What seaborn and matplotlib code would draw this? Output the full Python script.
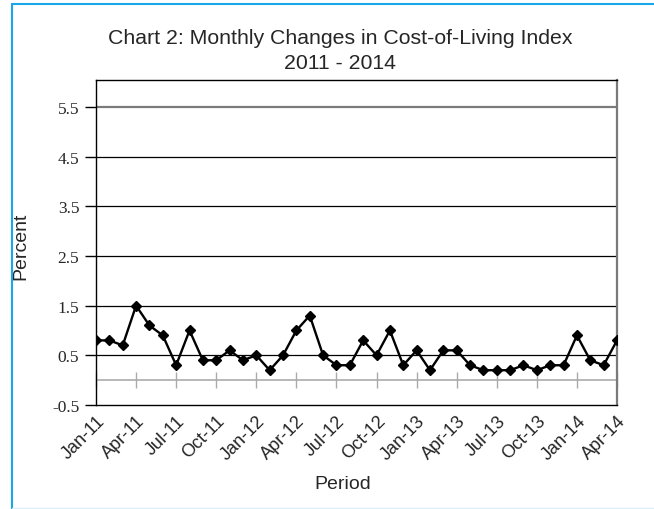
import matplotlib
matplotlib.use("Agg")
import matplotlib.pyplot as plt
from matplotlib.lines import Line2D
import seaborn as sns
import pandas as pd
import numpy as np

months = ["Jan", "Feb", "Mar", "Apr", "May", "Jun", "Jul", "Aug", "Sep", "Oct", "Nov", "Dec"]
years = ["11", "12", "13", "14"]
periods = [f"{m}-{y}" for y in years for m in months][:40]
values = [0.8, 0.8, 0.7, 1.5, 1.1, 0.9, 0.3, 1.0, 0.4, 0.4, 0.6, 0.4,
          0.5, 0.2, 0.5, 1.0, 1.3, 0.5, 0.3, 0.3, 0.8, 0.5, 1.0, 0.3,
          0.6, 0.2, 0.6, 0.6, 0.3, 0.2, 0.2, 0.2, 0.3, 0.2, 0.3, 0.3,
          0.9, 0.4, 0.3, 0.8]
yticks = [-0.5, 0.5, 1.5, 2.5, 3.5, 4.5, 5.5]
title = "Chart 2: Monthly Changes in Cost-of-Living Index\n2011 - 2014"

sns.set_style("white")
plt.rcParams["font.family"] = ["Liberation Sans", "DejaVu Sans"]

df = pd.DataFrame({"idx": np.arange(len(values)), "value": values, "period": periods})

fig = plt.figure(figsize=(6.54, 5.10), dpi=100)
ax = fig.add_axes([96/654, 1-406/510, (617-96)/654, (406-81)/510])

ymin, ymax = -0.5, 6.04
ax.set_xlim(0, len(values) - 1)
ax.set_ylim(ymin, ymax)

# gridlines
for t in yticks[1:]:
    ax.axhline(t, color="#7a7a7a" if t == 5.5 else "black",
               lw=1.6 if t == 5.5 else 0.9, zorder=1)

# zero line with tick marks
ax.axhline(0, color="#ababab", lw=1.2, zorder=1)
loc = (0 - ymin) / (ymax - ymin)
sec = ax.secondary_xaxis(loc)
sec.set_xticks(df["idx"][::3])
sec.tick_params(axis="x", direction="inout", length=11, width=1, color="#ababab",
                labelbottom=False, labeltop=False)
for s in sec.spines.values():
    s.set_visible(False)

sns.lineplot(data=df, x="idx", y="value", ax=ax, color="black", lw=1.7,
             marker="D", markersize=5.5, markeredgecolor="black", markeredgewidth=1,
             zorder=3)

ax.set_yticks(yticks)
ax.set_yticklabels([f"{t:.1f}" for t in yticks])
for lab in ax.get_yticklabels():
    lab.set_fontfamily(["Liberation Serif", "DejaVu Serif"])
    lab.set_fontsize(12.5)
ax.tick_params(axis="y", direction="out", length=8, width=1, color="black", left=True, pad=4)

ax.set_xticks(df["idx"][::3])
ax.set_xticklabels(df["period"][::3], rotation=45, ha="right", rotation_mode="anchor",
                   fontsize=13)
ax.tick_params(axis="x", length=0, pad=5)

for s in ax.spines.values():
    s.set_color("black")
    s.set_linewidth(1.0)
ax.spines["right"].set_color("#7a7a7a")
ax.spines["right"].set_linewidth(1.6)

ax.set_xlabel("")
ax.set_ylabel("")
fig.text(21/654, 1-246/510, "Percent", rotation=90, ha="center", va="center", fontsize=14)
fig.text(343/654, 1-485/510, "Period", ha="center", va="center", fontsize=14)
fig.text(340/654, 1-51/510, title, ha="center", va="center", fontsize=15.3, linespacing=1.35)

# outer blue frame
fig.add_artist(Line2D([12/654, 12/654], [0, 1-5/510], transform=fig.transFigure,
                      color="#1aa7e8", lw=1.5))
fig.add_artist(Line2D([12/654, 1], [1-5/510, 1-5/510], transform=fig.transFigure,
                      color="#1aa7e8", lw=1.5))
fig.add_artist(Line2D([12/654, 1], [1-509/510, 1-509/510], transform=fig.transFigure,
                      color="#d8eef9", lw=1.0))

fig.savefig("out.png", dpi=100)
